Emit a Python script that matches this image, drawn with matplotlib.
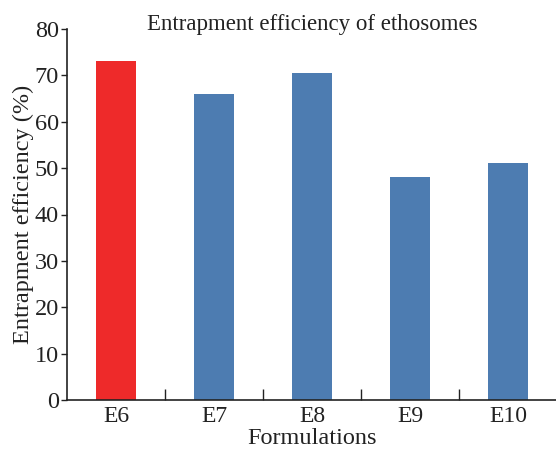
import matplotlib
matplotlib.use("Agg")
import matplotlib.pyplot as plt
import numpy as np

categories = ["E6", "E7", "E8", "E9", "E10"]
values = [73.0, 66.0, 70.6, 48.0, 51.0]
bar_colors = ["#EE2A2A", "#4D7CB1", "#4D7CB1", "#4D7CB1", "#4D7CB1"]
yticks = [0, 10, 20, 30, 40, 50, 60, 70, 80]

plt.rcParams["font.family"] = ["Liberation Serif", "DejaVu Serif"]

fig = plt.figure(figsize=(5.56, 4.54), dpi=100)
ax = fig.add_axes([67/556, 1 - 400/454, (557 - 67)/556, (400 - 29)/454])

x = np.arange(len(categories))
ax.bar(x, values, width=0.41, color=bar_colors)

ax.set_xlim(-0.5, 4.5)
ax.set_ylim(0, 80)
ax.set_yticks(yticks)
ax.set_yticklabels([str(t) for t in yticks], fontsize=17.5, color="#222222")

ax.set_xticks(x)
ax.set_xticklabels(categories, fontsize=17, color="#222222")
ax.tick_params(axis="x", which="major", length=0, pad=4)
ax.set_xticks(np.arange(0.5, 4.6, 1.0), minor=True)
ax.tick_params(axis="x", which="minor", direction="in", length=8, width=1, color="#222222")
ax.tick_params(axis="y", direction="out", length=4, width=1, color="#222222", pad=2)

for s in ["top", "right"]:
    ax.spines[s].set_visible(False)
for s in ["left", "bottom"]:
    ax.spines[s].set_linewidth(1.2)
    ax.spines[s].set_color("#222222")

ax.set_title("Entrapment efficiency of ethosomes", fontsize=16.5, color="#222222", pad=-1, y=1.0)
ax.set_xlabel("Formulations", fontsize=17.5, color="#222222", labelpad=1)
ax.set_ylabel("Entrapment efficiency (%)", fontsize=17.5, color="#222222", labelpad=0)

fig.savefig("out.png", dpi=100)
